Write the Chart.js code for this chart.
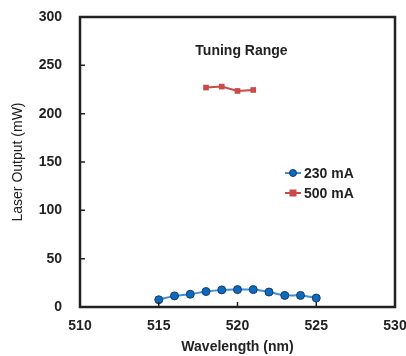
<!DOCTYPE html>
<html><head><meta charset="utf-8">
<script src="https://cdn.jsdelivr.net/npm/chart.js@4.4.0/dist/chart.umd.min.js"></script>
<style>html,body{margin:0;padding:0;background:#fff;}#wrap{width:406px;height:356px;}</style>
</head><body><div id="wrap"><canvas id="c" width="406" height="356"></canvas></div>
<script>
const wavelength230 = [515, 516, 517, 518, 519, 520, 521, 522, 523, 524, 525];
const output230 = [7.5, 11.5, 13.2, 16, 17.7, 18, 18, 15.5, 12, 12, 9.3];
const wavelength500 = [518, 519, 520, 521];
const output500 = [227, 228, 223.5, 224.5];
const seriesNames = ['230 mA', '500 mA'];
const xTicks = [510, 515, 520, 525, 530];
const yTicks = [0, 50, 100, 150, 200, 250, 300];
const chartTitle = 'Tuning Range';
const xTitle = 'Wavelength (nm)';
const yTitle = 'Laser Output (mW)';

const FONT = "'Liberation Sans', Arial, sans-serif";
const INK = '#222';

const frame = {
  id: 'frame',
  afterDatasetsDraw(chart) {
    const {ctx, chartArea: a, scales} = chart;
    ctx.save();
    ctx.strokeStyle = INK;
    ctx.lineWidth = 1.5;
    ctx.beginPath();
    scales.x.ticks.forEach((t, i) => {
      const px = scales.x.getPixelForTick(i);
      ctx.moveTo(px, a.bottom); ctx.lineTo(px, a.bottom - 5);
    });
    scales.y.ticks.forEach((t, i) => {
      const py = scales.y.getPixelForTick(i);
      ctx.moveTo(a.left, py); ctx.lineTo(a.left + 5, py);
    });
    ctx.stroke();
    ctx.lineWidth = 2.5;
    ctx.strokeRect(a.left, a.top, a.right - a.left, a.bottom - a.top);
    ctx.fillStyle = INK;
    ctx.font = 'bold 14px ' + FONT;
    ctx.textAlign = 'center';
    ctx.textBaseline = 'middle';
    ctx.fillText(chartTitle, (a.left + a.right) / 2 + 4, a.top + 34);
    chart.data.datasets.forEach((ds, i) => {
      const y = a.top + 156 + i * 20;
      const x0 = a.left + 205;
      ctx.strokeStyle = ds.borderColor;
      ctx.lineWidth = 2;
      ctx.beginPath(); ctx.moveTo(x0, y); ctx.lineTo(x0 + 16, y); ctx.stroke();
      ctx.fillStyle = ds.pointBackgroundColor;
      ctx.strokeStyle = ds.pointBorderColor;
      ctx.lineWidth = 1;
      if (ds.pointStyle === 'rect') {
        ctx.fillRect(x0 + 4.5, y - 3.5, 7, 7);
      } else {
        ctx.beginPath(); ctx.arc(x0 + 8, y, 3.5, 0, Math.PI * 2); ctx.fill(); ctx.stroke();
      }
      ctx.fillStyle = INK;
      ctx.font = 'bold 14px ' + FONT;
      ctx.textAlign = 'left';
      ctx.fillText(ds.label, x0 + 19, y + 1);
    });
    ctx.restore();
  }
};

new Chart(document.getElementById('c'), {
  type: 'scatter',
  data: {
    datasets: [
      {
        label: seriesNames[0],
        data: wavelength230.map((x, i) => ({x, y: output230[i]})),
        showLine: true,
        borderColor: '#3f8fdc',
        borderWidth: 2,
        tension: 0.35,
        pointStyle: 'circle',
        pointRadius: 4,
        pointBackgroundColor: '#0b6bbf',
        pointBorderColor: '#1d3a66',
        pointBorderWidth: 1
      },
      {
        label: seriesNames[1],
        data: wavelength500.map((x, i) => ({x, y: output500[i]})),
        showLine: true,
        borderColor: '#c94a48',
        borderWidth: 2,
        tension: 0,
        pointStyle: 'rect',
        pointRadius: 4,
        pointBackgroundColor: '#c94a48',
        pointBorderColor: '#c94a48',
        pointBorderWidth: 0
      }
    ]
  },
  options: {
    responsive: false,
    animation: false,
    layout: {padding: {left: 0, right: 11, top: 17, bottom: 0}},
    plugins: {legend: {display: false}, tooltip: {enabled: false}},
    scales: {
      x: {
        type: 'linear', min: 510, max: 530,
        afterBuildTicks: s => { s.ticks = xTicks.map(v => ({value: v})); },
        afterFit: s => { s.height = 49; s.paddingLeft = 0; s.paddingRight = 0; },
        grid: {display: false, drawTicks: false},
        border: {display: false},
        ticks: {padding: 11, color: INK, font: {family: FONT, size: 14, weight: 'bold'}},
        title: {display: true, text: xTitle, color: INK, font: {family: FONT, size: 14, weight: 'bold'}, padding: {top: 4, bottom: 0}}
      },
      y: {
        type: 'linear', min: 0, max: 300,
        afterBuildTicks: s => { s.ticks = yTicks.map(v => ({value: v})); },
        afterFit: s => { s.width = 80; s.paddingTop = 0; s.paddingBottom = 0; },
        grid: {display: false, drawTicks: false},
        border: {display: false},
        ticks: {padding: 18, color: INK, font: {family: FONT, size: 14, weight: 'bold'}},
        title: {display: true, text: yTitle, color: INK, font: {family: FONT, size: 14}, padding: {top: 10, bottom: 0}}
      }
    }
  },
  plugins: [frame]
});
</script></body></html>
